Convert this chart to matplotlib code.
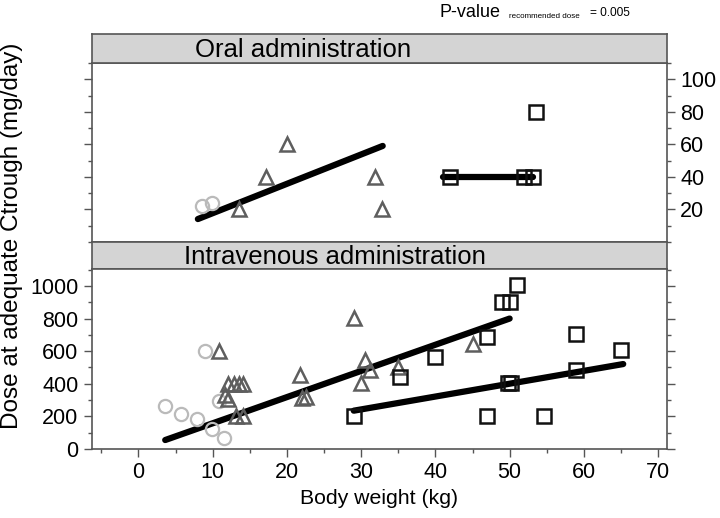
import matplotlib
matplotlib.use("Agg")
import matplotlib.pyplot as plt
from matplotlib.ticker import MultipleLocator

plt.rcParams['font.family'] = ['Liberation Sans', 'DejaVu Sans']

# ---- oral administration ----
oral_circ_x = [8.5, 9.9]
oral_circ_y = [22, 24]
oral_tri_x = [13.5, 17.2, 20.0, 31.8, 32.8]
oral_tri_y = [20, 40, 60, 40, 20]
oral_sq_x = [42.0, 51.9, 53.2, 53.5]
oral_sq_y = [40, 40, 40, 80]
oral_fit1_x = [8.0, 32.9]
oral_fit1_y = [14, 59]
oral_fit2_x = [41.0, 53.2]
oral_fit2_y = [40, 40]

# ---- intravenous administration ----
iv_circ_x = [3.6, 5.7, 7.9, 9.0, 9.9, 10.8, 11.5]
iv_circ_y = [265, 214, 184, 602, 121, 294, 65]
iv_tri_x = [10.9, 11.7, 12.0, 12.1, 12.8, 13.6, 14.1, 13.2, 14.1,
            21.7, 22.0, 22.6, 29.0, 30.5, 31.2, 30.0, 34.9, 45.1]
iv_tri_y = [600, 330, 304, 400, 400, 400, 400, 202, 202,
            453, 310, 320, 806, 545, 484, 406, 500, 643]
iv_sq_x = [29.0, 35.2, 40.0, 47.0, 47.0, 49.0, 50.1, 51.0, 49.8, 50.2,
           54.6, 59.0, 59.0, 65.0]
iv_sq_y = [202, 443, 565, 688, 202, 902, 902, 1004, 402, 402,
           202, 708, 484, 606]
iv_fit1_x = [3.6, 50.0]
iv_fit1_y = [55, 800]
iv_fit2_x = [29.0, 65.3]
iv_fit2_y = [235, 521]

circ_col = '#bababa'
tri_col = '#5e5e5e'
sq_col = '#111111'
frame_col = '#555555'

fig = plt.figure(figsize=(7.2, 5.18), dpi=100)

L, W = 0.1274, 0.799
ax_top = fig.add_axes([L, 0.5332, W, 0.3457])
strip_top = fig.add_axes([L, 0.879, W, 0.0554])
strip_bot = fig.add_axes([L, 0.4801, W, 0.0531])
ax_bot = fig.add_axes([L, 0.1332, W, 0.3469])


def draw_panel(ax, cx, cy, tx, ty, sx, sy, f1x, f1y, f2x, f2y):
    ax.plot(f1x, f1y, color='black', lw=4.5, solid_capstyle='round', zorder=3)
    ax.plot(f2x, f2y, color='black', lw=4.5, solid_capstyle='round', zorder=3)
    ax.plot(cx, cy, 'o', ms=9.5, mfc='none', mec=circ_col, mew=1.6, zorder=4)
    ax.plot(tx, ty, '^', ms=10, mfc='none', mec=tri_col, mew=1.8, zorder=4)
    ax.plot(sx, sy, 's', ms=10.5, mfc='none', mec=sq_col, mew=1.8, zorder=4)
    ax.set_xlim(-6.3, 71.2)
    for s in ax.spines.values():
        s.set_color(frame_col)
        s.set_linewidth(1.2)
    ax.tick_params(which='both', direction='out', color=frame_col,
                   labelsize=15.5, width=1)
    ax.tick_params(which='major', length=6)
    ax.tick_params(which='minor', length=3)


draw_panel(ax_top, oral_circ_x, oral_circ_y, oral_tri_x, oral_tri_y,
           oral_sq_x, oral_sq_y, oral_fit1_x, oral_fit1_y,
           oral_fit2_x, oral_fit2_y)
draw_panel(ax_bot, iv_circ_x, iv_circ_y, iv_tri_x, iv_tri_y,
           iv_sq_x, iv_sq_y, iv_fit1_x, iv_fit1_y, iv_fit2_x, iv_fit2_y)

# top panel: labels on the right
ax_top.set_ylim(0, 110.2)
ax_top.set_yticks([20, 40, 60, 80, 100])
ax_top.yaxis.set_minor_locator(MultipleLocator(10))
ax_top.tick_params(axis='y', which='both', left=True, right=True,
                   labelleft=False, labelright=True)
ax_top.tick_params(axis='x', which='both', bottom=False, labelbottom=False)

# bottom panel
ax_bot.set_ylim(0, 1102)
ax_bot.set_yticks(range(0, 1001, 200))
ax_bot.yaxis.set_minor_locator(MultipleLocator(100))
ax_bot.tick_params(axis='y', which='both', left=True, right=True,
                   labelleft=True, labelright=False)
ax_bot.set_xticks(range(0, 71, 10))
ax_bot.xaxis.set_minor_locator(MultipleLocator(5))
ax_bot.set_xlabel('Body weight (kg)', fontsize=15.3, labelpad=4)

for st, label, xc in [(strip_top, 'Oral administration', 0.368),
                      (strip_bot, 'Intravenous administration', 0.423)]:
    st.set_facecolor('#d4d4d4')
    st.set_xticks([])
    st.set_yticks([])
    for s in st.spines.values():
        s.set_color(frame_col)
        s.set_linewidth(1.2)
    st.text(xc, 0.45, label, transform=st.transAxes, ha='center', va='center',
            fontsize=18.5)

fig.text(0.016, 0.544, 'Dose at adequate Ctrough (mg/day)', rotation=90,
         ha='center', va='center', fontsize=17.5)

fig.text(439 / 720, 1 - 17 / 518, 'P-value', fontsize=13, va='baseline')
fig.text(509 / 720, 1 - 18 / 518, 'recommended dose', fontsize=5.8,
         va='baseline')
fig.text(590 / 720, 1 - 16 / 518, '= 0.005', fontsize=8.6, va='baseline')

fig.savefig('out.png', dpi=100)
